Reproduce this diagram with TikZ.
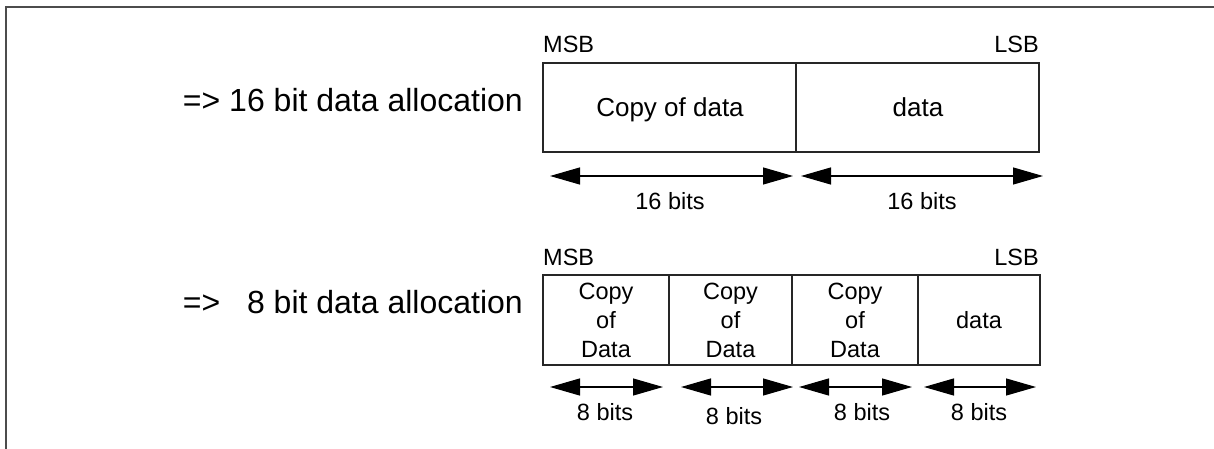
\documentclass[tikz,border=0pt]{standalone}
\usepackage{fontspec}
\setmainfont{Liberation Sans}
\usetikzlibrary{arrows.meta}
\begin{document}
\begin{tikzpicture}[x=1pt,y=-1pt,
  cell/.style={draw=black!85,line width=1.3pt,inner sep=0pt,outer sep=0pt,anchor=north west,align=center},
  bigtxt/.style={font=\fontsize{32}{38}\selectfont,inner sep=0pt},
  celltxt/.style={font=\fontsize{23.5}{29}\selectfont},
  midtxt/.style={font=\fontsize{26}{30}\selectfont,inner sep=0pt},
  smalltxt/.style={font=\fontsize{23.5}{28}\selectfont,inner sep=0pt},
  dimarrow/.style={line width=1.2pt,{Triangle[length=30pt,width=17pt]}-{Triangle[length=30pt,width=17pt]}}]
\useasboundingbox (0,0) rectangle (1214,449);
\draw[line width=2pt,black!70] (5.5,449) -- (5.5,7) -- (1214,7);

% labels
\node[bigtxt,anchor=base east] (l16) at (523,112) {=> 16 bit data allocation};
\node[bigtxt,anchor=base east] (l8) at (523,313) {=> \hphantom{1}8 bit data allocation};

% upper box
\node[cell,minimum width=253pt,minimum height=89pt] (u1) at (543,63) {};
\node[cell,minimum width=243pt,minimum height=89pt] (u2) at (796,63) {};
\node[midtxt,anchor=base] (u1t) at (670,117) {Copy of data};
\node[midtxt,anchor=base] (u2t) at (918,117) {data};
\node[smalltxt,anchor=base west] (msb1) at (543,53) {MSB};
\node[smalltxt,anchor=base east] (lsb1) at (1039,53) {LSB};

\coordinate (ua1) at (550,176); \coordinate (ub1) at (793,176);
\coordinate (ua2) at (801,176); \coordinate (ub2) at (1043,176);
\draw[dimarrow] (ua1) -- (ub1);
\draw[dimarrow] (ua2) -- (ub2);
\node[smalltxt,anchor=base] (b16a) at (670,209) {16 bits};
\node[smalltxt,anchor=base] (b16b) at (922,209) {16 bits};

% lower box
\node[cell,celltxt,minimum width=126pt,minimum height=90pt,text width=120pt] (c1) at (543,275) {Copy\\of\\Data};
\node[cell,celltxt,minimum width=123pt,minimum height=90pt,text width=117pt] (c2) at (669,275) {Copy\\of\\Data};
\node[cell,celltxt,minimum width=126pt,minimum height=90pt,text width=120pt] (c3) at (792,275) {Copy\\of\\Data};
\node[cell,celltxt,minimum width=122pt,minimum height=90pt,text width=116pt] (c4) at (918,275) {data};
\node[smalltxt,anchor=base west] (msb2) at (543,265) {MSB};
\node[smalltxt,anchor=base east] (lsb2) at (1039,265) {LSB};

\coordinate (la1) at (550,387); \coordinate (lb1) at (663,387);
\coordinate (la2) at (681,387); \coordinate (lb2) at (793,387);
\coordinate (la3) at (799,387); \coordinate (lb3) at (912,387);
\coordinate (la4) at (924,387); \coordinate (lb4) at (1036,387);
\draw[dimarrow] (la1) -- (lb1);
\draw[dimarrow] (la2) -- (lb2);
\draw[dimarrow] (la3) -- (lb3);
\draw[dimarrow] (la4) -- (lb4);
\node[smalltxt,anchor=base] (e1) at (605,420) {8 bits};
\node[smalltxt,anchor=base] (e2) at (734,424) {8 bits};
\node[smalltxt,anchor=base] (e3) at (862,420) {8 bits};
\node[smalltxt,anchor=base] (e4) at (979,420) {8 bits};
\end{tikzpicture}
\end{document}
